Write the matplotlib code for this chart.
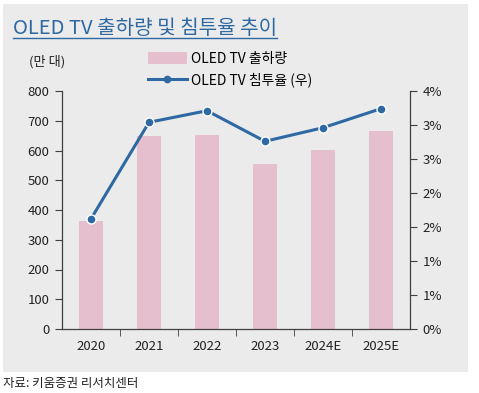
import math
import matplotlib
matplotlib.use("Agg")
import matplotlib.pyplot as plt
from matplotlib.patches import Rectangle, Patch
from matplotlib.lines import Line2D
from matplotlib.ticker import FuncFormatter, FixedLocator

plt.rcParams['font.family'] = ['Noto Sans CJK KR', 'DejaVu Sans']

years = ["2020", "2021", "2022", "2023", "2024E", "2025E"]
shipments = [363, 650, 652, 555, 602, 666]          # 만 대
penetration = [1.62, 3.04, 3.21, 2.76, 2.96, 3.24]  # %

bar_color = "#E5BFCD"
line_color = "#2E69A3"
bg_color = "#EBEBEB"
axis_color = "#404040"

W, H = 479, 393
fig = plt.figure(figsize=(W / 100, H / 100), dpi=100)
fig.patch.set_facecolor("white")

# gray panel behind the chart
fig.patches.append(Rectangle((3 / W, 1 - 372 / H), 465 / W, 368 / H,
                             transform=fig.transFigure, facecolor=bg_color,
                             edgecolor="none", zorder=-5))

ax = fig.add_axes([62 / W, 1 - 329 / H, 348 / W, 238 / H])
ax.set_facecolor("none")
x = list(range(len(years)))
ax.bar(x, shipments, width=0.4, color=bar_color, zorder=2)
ax.set_xlim(-0.5, len(years) - 0.5)
ax.set_ylim(0, 800)
ax.set_yticks(range(0, 801, 100))
ax.set_xticks(x)
ax.set_xticklabels(years)
ax.xaxis.set_minor_locator(FixedLocator([i + 0.5 for i in range(len(years) - 1)]))
ax.tick_params(axis="x", which="major", length=0, pad=8, labelsize=9.5, colors="#222222")
ax.tick_params(axis="x", which="minor", length=5, direction="out", color=axis_color)
ax.tick_params(axis="y", length=5, direction="out", labelsize=9.5, colors="#222222",
               color=axis_color, pad=4)
for s in ["top", "right"]:
    ax.spines[s].set_visible(False)
for s in ["left", "bottom"]:
    ax.spines[s].set_color(axis_color)
    ax.spines[s].set_linewidth(0.9)

ax2 = ax.twinx()
ax2.plot(x, penetration, color=line_color, lw=2.2, marker="o", ms=6.5,
         mec="white", mew=1.0, zorder=3)
ax2.set_ylim(0, 3.5)
ax2.set_yticks([i * 0.5 for i in range(8)])
ax2.yaxis.set_major_formatter(FuncFormatter(lambda v, p: f"{math.floor(v + 0.5 + 1e-9)}%"))
ax2.tick_params(axis="y", length=5, direction="out", labelsize=9.5, colors="#222222",
                color=axis_color, pad=4)
for s in ["top", "left", "bottom"]:
    ax2.spines[s].set_visible(False)
ax2.spines["right"].set_color(axis_color)
ax2.spines["right"].set_linewidth(0.9)

# title with underline
title = fig.text(13 / W, 1 - 34 / H, "OLED TV 출하량 및 침투율 추이", fontsize=14.5,
                 color=line_color, ha="left", va="baseline")
fig.canvas.draw()
bb = title.get_window_extent().transformed(fig.transFigure.inverted())
uy = 1 - 38 / H
fig.add_artist(Line2D([bb.x0, bb.x1], [uy, uy], transform=fig.transFigure,
                      color=line_color, lw=1.0))

fig.text(29 / W, 1 - 62 / H, "(만 대)", fontsize=9.5, color="#222222",
         ha="left", va="center")

handles = [Patch(facecolor=bar_color, edgecolor="none"),
           Line2D([], [], color=line_color, lw=2.2, marker="o", ms=4.5)]
labels = ["OLED TV 출하량", "OLED TV 침투율 (우)"]
fig.legend(handles, labels, loc="upper left", bbox_to_anchor=(148 / W, 1 - 52 / H),
           frameon=False, fontsize=10, handlelength=2.8, handleheight=0.9,
           handletextpad=0.3, labelspacing=0.45, borderaxespad=0, borderpad=0)

fig.text(3 / W, 1 - 383 / H, "자료: 키움증권 리서치센터", fontsize=9,
         color="#222222", ha="left", va="center")

fig.savefig("out.png", dpi=100)
